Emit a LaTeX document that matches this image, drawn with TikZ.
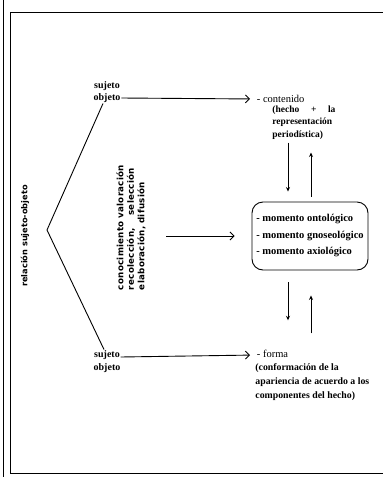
\documentclass[tikz,border=0pt]{standalone}
\usepackage{fontspec}
\setmainfont{Liberation Serif}
\newfontfamily\procfont{DejaVu Sans}[LetterSpace=3]
\newfontfamily\relfont{DejaVu Sans}
\usetikzlibrary{positioning,arrows.meta}

\tikzset{
  lbl/.style={font=\bfseries\fontsize{10}{12}\selectfont, inner sep=0.5pt},
  desc/.style={inner sep=0pt, align=left, anchor=north west},
  arr/.style={-{Straight Barb[length=4pt,width=8pt]}, line width=0.9pt},
  varr/.style={-{Stealth[length=4.5pt,width=4pt]}, line width=0.9pt},
}

\begin{document}
\begin{tikzpicture}[x=1pt,y=-1pt,line width=0.9pt]
\useasboundingbox (0,0) rectangle (383,477);

% marco
\draw (3,0) -- (3,477);
\draw (383,12) -- (10,12) -- (10,473) -- (383,473);

% relacion
\node[rotate=90, font=\relfont\bfseries\fontsize{8.2}{9}\selectfont] (rel) at (25,236) {relación sujeto-objeto};
\coordinate (apex) at (47,230);

% sujeto/objeto arriba
\node[lbl] (suj1) at (107,86) {sujeto};
\node[lbl] (obj1) at (107,98) {objeto};
\node[lbl, font=\fontsize{10.5}{12}\selectfont, anchor=west] (cont) at (256,99) {- contenido};
\node[desc, text width=63pt, font=\bfseries\fontsize{9.5}{12.5}\selectfont] (contd) at (272,105)
  {(hecho\hfill+\hfill la\\ representación\\ periodística)};

% momentos
\node[draw, rounded corners=11pt, minimum width=116pt, minimum height=68pt, align=left,
  font=\bfseries\fontsize{10.5}{16.5}\selectfont] (mom) at (310,236)
  {- momento ontológico\\ - momento gnoseológico\\ - momento axiológico};

% proceso
\node[rotate=90, text width=122pt, align=left, inner sep=0pt,
  font=\procfont\bfseries\fontsize{8.7}{10.5}\selectfont] (proc) at (131,229)
  {\mbox{conocimiento valoración}\\ recolección,\hfill selección\\ elaboración, difusión};

% sujeto/objeto abajo
\node[lbl] (suj2) at (107,355) {sujeto};
\node[lbl] (obj2) at (107,368) {objeto};
\node[lbl, font=\fontsize{10.5}{12}\selectfont, anchor=west] (forma) at (256,354) {- forma};
\node[desc, font=\bfseries\fontsize{9.8}{14}\selectfont] (formad) at (255,363)
  {(conformación de la\\ apariencia de acuerdo a los\\ componentes del hecho)};

% conectores
\draw ([xshift=-4pt]obj1.south) -- (apex) -- ([xshift=-3pt]suj2.north);
\draw[arr, shorten >=6pt] (obj1.east) -- (cont.west);
\draw[arr, shorten >=6pt] ([yshift=-2pt]suj2.east) -- ([yshift=-1pt]forma.west);
\draw[arr, shorten <=20pt, shorten >=17pt] (proc.south |- mom.west) -- (mom.west);

\draw[varr, shorten <=3pt, shorten >=10pt] ([xshift=-22pt]mom.north |- contd.south) -- ([xshift=-22pt]mom.north);
\draw[varr, shorten <=5pt, shorten >=13pt] ([xshift=1pt]mom.north) -- ([xshift=1pt]mom.north |- contd.south);
\draw[varr, shorten <=12pt, shorten >=29pt] ([xshift=-22pt]mom.south) -- ([xshift=-22pt]mom.south |- forma.north);
\draw[varr, shorten <=16pt, shorten >=25pt] ([xshift=1pt]mom.south |- forma.north) -- ([xshift=1pt]mom.south);
\end{tikzpicture}
\end{document}
